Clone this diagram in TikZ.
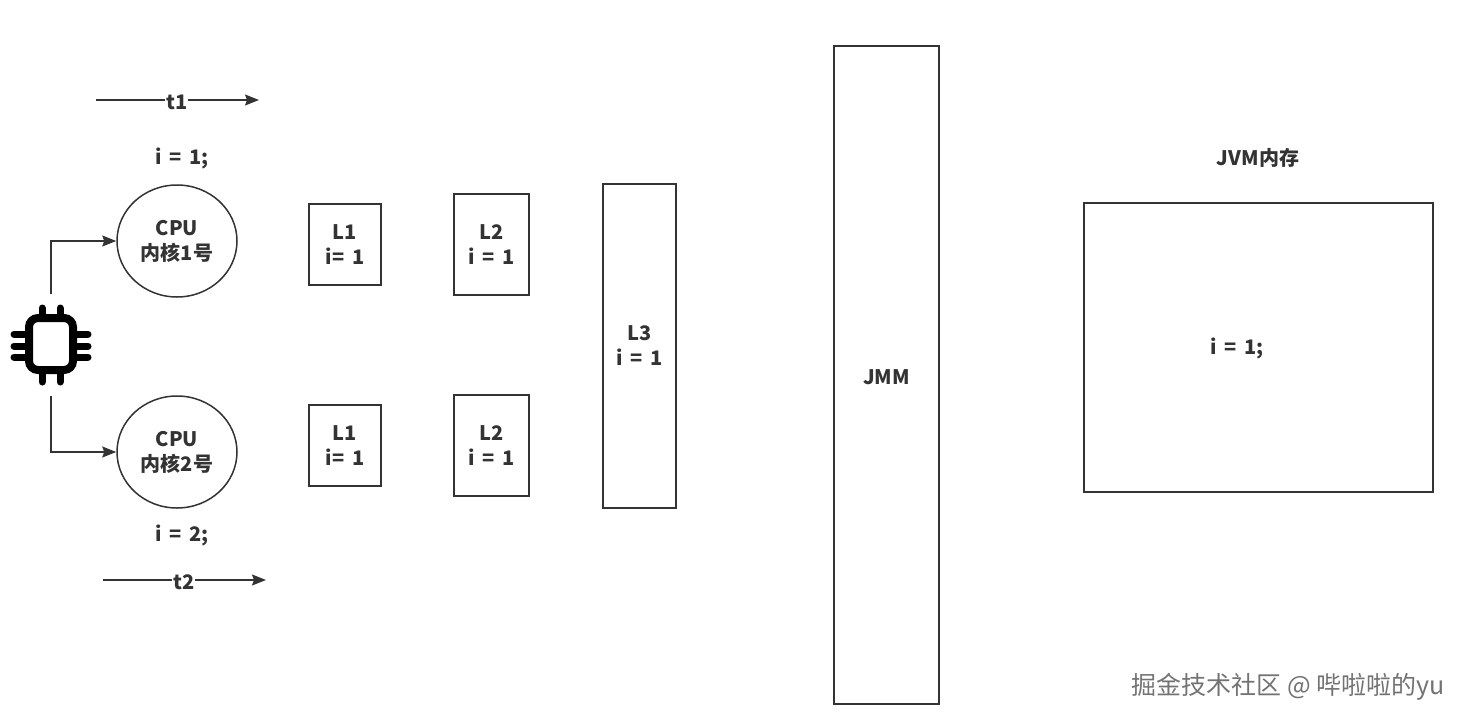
\documentclass[tikz,border=0pt]{standalone}
\usepackage{fontspec}
\setmainfont{Noto Sans CJK SC}
\usetikzlibrary{arrows.meta,shapes.geometric}
\definecolor{inkgray}{HTML}{333333}
\tikzset{
    cachebox/.style={draw=inkgray,line width=1.5pt,inner sep=0pt},
    corecircle/.style={draw=inkgray,line width=1.5pt,ellipse,minimum width=120pt,minimum height=112pt,inner sep=0pt,align=center,font=\coretext,execute at begin node={\rule{0pt}{24pt}}},
    flowline/.style={draw=inkgray,line width=1.5pt,-{Stealth[length=14pt,width=11pt,inset=2pt]}},
    labeltext/.style={text=inkgray,align=center,font=\coretext,execute at begin node={\rule{0pt}{20pt}}},
    stacktext/.style={text=inkgray,align=center,font=\coretext,execute at begin node={\rule{0pt}{24pt}}},
    chippin/.style={draw=black,line width=7pt,line cap=round}
}
\newcommand{\coretext}{\fontsize{20}{25}\selectfont\bfseries\color{inkgray}}
\begin{document}
\begin{tikzpicture}[x=1pt,y=-1pt]
    \useasboundingbox (0,0) rectangle (1467,723);
    % Chip icon
    \node[draw=black,line width=8pt,rounded corners=9pt,minimum width=44pt,minimum height=52pt,inner sep=0pt] (chip) at (51,344) {};
    \foreach \pinx in {42,60} {
        \draw[chippin] (\pinx,308) -- (\pinx,314);
        \draw[chippin] (\pinx,374) -- (\pinx,382);
    }
    \foreach \piny in {334,346,357} {
        \draw[chippin] (14,\piny) -- (26,\piny);
        \draw[chippin] (76,\piny) -- (88,\piny);
    }
    % Cores
    \node[corecircle] (core1) at (177,241) {CPU\\内核1号};
    \node[corecircle] (core2) at (177,452) {CPU\\内核2号};
    \coordinate (feed1) at (51,294);
    \coordinate (feed2) at (51,396);
    \draw[flowline] (feed1) |- (core1.west);
    \draw[flowline] (feed2) |- (core2.west);
    % Threads
    \coordinate (t1start) at (96,100);
    \coordinate (t1end) at (259,100);
    \coordinate (t2start) at (103,580);
    \coordinate (t2end) at (266,580);
    \draw[flowline] (t1start) -- node[pos=0.495,fill=white,inner sep=1pt,labeltext] (t1label) {t1} (t1end);
    \draw[flowline] (t2start) -- node[pos=0.495,fill=white,inner sep=1pt,labeltext] (t2label) {t2} (t2end);
    \node[labeltext] (value1) at (182,157) {i\, =\, 1;};
    \node[labeltext] (value2) at (182,534) {i\, =\, 2;};
    % Caches
    \node[cachebox,stacktext,minimum width=72pt,minimum height=81pt] (l1a) at (345,244.5) {L1\\i=\, 1};
    \node[cachebox,stacktext,minimum width=72pt,minimum height=81pt] (l1b) at (345,445.5) {L1\\i=\, 1};
    \node[cachebox,stacktext,minimum width=75pt,minimum height=101pt] (l2a) at (491.5,244.5) {L2\\i\, =\, 1};
    \node[cachebox,stacktext,minimum width=75pt,minimum height=101pt] (l2b) at (491.5,445.5) {L2\\i\, =\, 1};
    \node[cachebox,stacktext,minimum width=73pt,minimum height=324pt] (l3) at (639.5,346) {L3\\i\, =\, 1};
    % Memory
    \node[cachebox,labeltext,minimum width=105pt,minimum height=658pt] (jmm) at (886.5,375) {JMM};
    \node[cachebox,minimum width=349pt,minimum height=289pt] (jvm) at (1258.5,347.5) {};
    \node[labeltext] (jvmtitle) at (1258,156) {JVM内存};
    \node[labeltext] (jvmvalue) at (1237,347) {i\, =\, 1;};
    \node[text=black!55,font=\fontsize{25}{29}\selectfont] (mark) at (1288,687) {掘金技术社区 @ 哔啦啦的yu};
\end{tikzpicture}
\end{document}
